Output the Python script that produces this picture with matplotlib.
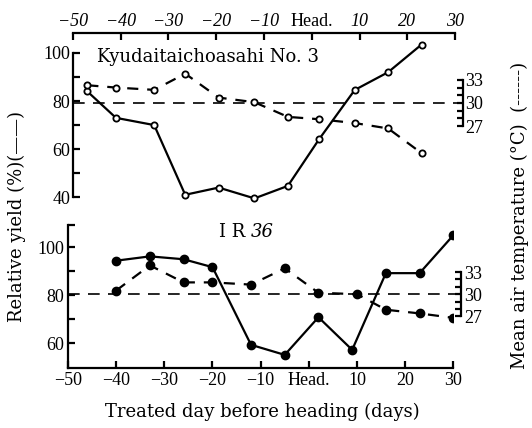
import numpy as np
import matplotlib
matplotlib.use("Agg")
import matplotlib.pyplot as plt
from matplotlib.ticker import FixedLocator

plt.rcParams['font.family'] = ['Liberation Serif', 'DejaVu Serif']

# Datos
top_days = [-47, -41, -33, -26.5, -19.5, -12, -5, 1.5, 9, 16, 23]
top_yield = [84, 73, 70, 41, 44, 39.5, 44.7, 64, 84.6, 92, 103.5]
top_temp = [32.3, 32.0, 31.7, 33.8, 30.7, 30.1, 28.2, 27.9, 27.4, 26.7, 23.5]

bot_days = [-40, -33, -26, -20, -12, -5, 2, 9, 16, 23, 30]
bot_yield = [94.4, 96.2, 95, 91.7, 59.3, 55.1, 70.8, 57.2, 89.2, 89.2, 105]
bot_temp_days = [-40, -33, -26, -20, -12, -5, 2, 10, 16, 23, 30]
bot_temp = [30.5, 33.9, 31.6, 31.6, 31.3, 33.5, 30.2, 30.0, 27.9, 27.4, 26.8]

xticks = [-50, -40, -30, -20, -10, 0, 10, 20, 30]
xticklabels = ['\u221250', '\u221240', '\u221230', '\u221220', '\u221210', 'Head.', '10', '20', '30']

W, H = 532, 428
fig = plt.figure(figsize=(W / 100, H / 100), dpi=100)

fs = 13
txt_font = 'DejaVu Serif'


def temp_axis(ax, tlim):
    ax2 = ax.twinx()
    ax2.set_ylim(*tlim)
    for s in ['top', 'bottom', 'left']:
        ax2.spines[s].set_visible(False)
    ax2.spines['right'].set_position(('axes', 1.02))
    ax2.spines['right'].set_bounds(27, 33)
    ax2.spines['right'].set_linewidth(1.6)
    ax2.yaxis.set_major_locator(FixedLocator([27, 30, 33]))
    ax2.yaxis.set_minor_locator(FixedLocator([28, 29, 31, 32]))
    ax2.tick_params(axis='y', which='both', direction='in', length=4, width=1.6,
                    labelsize=fs, pad=2)
    ax2.axhline(30, xmin=0, xmax=1.02, color='black', lw=1.2,
                dashes=(7, 5), clip_on=False)
    return ax2


# --- Panel superior: Kyudaitaichoasahi No. 3
ax1 = fig.add_axes([73 / W, 1 - 202 / H, 382 / W, (202 - 33) / H])
ax1.set_xlim(-50, 30)
ax1.set_ylim(38, 108.3)
ax1.plot(top_days, top_yield, '-', color='black', lw=1.6, marker='o',
         ms=4.5, mfc='white', mec='black', mew=1.3, zorder=3)
for s in ['right', 'bottom']:
    ax1.spines[s].set_visible(False)
ax1.spines['left'].set_bounds(40, 100)
ax1.spines['left'].set_linewidth(1.6)
ax1.spines['top'].set_linewidth(1.6)
ax1.xaxis.tick_top()
ax1.set_xticks(xticks)
ax1.set_xticklabels(xticklabels)
for lab in ax1.get_xticklabels():
    if lab.get_text() != 'Head.':
        lab.set_fontstyle('italic')
ax1.yaxis.set_major_locator(FixedLocator([40, 60, 80, 100]))
ax1.yaxis.set_minor_locator(FixedLocator([50, 70, 90]))
ax1.tick_params(which='both', direction='in', length=5, width=1.6,
                labelsize=fs, pad=2)
ax1.text(-45, 98.3, 'Kyudaitaichoasahi No. 3', fontsize=fs, va='center',
         family=txt_font)
ax1t = temp_axis(ax1, (17.17, 39.07))
ax1t.plot(top_days, top_temp, color='black', lw=1.6, dashes=(5, 4),
          marker='o', ms=4.5, mfc='white', mec='black', mew=1.3, zorder=3)

# --- Panel inferior: IR 36
ax2 = fig.add_axes([68 / W, 1 - 368.3 / H, 385.3 / W, (368.3 - 223.3) / H])
ax2.set_xlim(-50, 30)
ax2.set_ylim(49.5, 110)
ax2.plot(bot_days, bot_yield, '-', color='black', lw=1.6, marker='o',
         ms=6, mfc='black', mec='black', zorder=3)
for s in ['right', 'top']:
    ax2.spines[s].set_visible(False)
ax2.spines['left'].set_bounds(49.5, 109.3)
ax2.spines['left'].set_linewidth(1.6)
ax2.spines['bottom'].set_linewidth(1.6)
ax2.set_xticks(xticks)
ax2.set_xticklabels(xticklabels)
ax2.yaxis.set_major_locator(FixedLocator([60, 80, 100]))
ax2.yaxis.set_minor_locator(FixedLocator([70, 90, 109.3]))
ax2.tick_params(which='both', direction='in', length=5, width=1.6,
                labelsize=fs, pad=3)
t = ax2.text(-18.7, 106.5, 'I R ', fontsize=fs, va='center', family=txt_font)
ax2.annotate('36', xy=(1, 0.5), xycoords=t, va='center', ha='left',
             fontsize=fs, family=txt_font, fontstyle='italic')
ax2t = temp_axis(ax2, (19.97, 39.6))
ax2t.plot(bot_temp_days, bot_temp, color='black', lw=1.6, dashes=(5, 4),
          marker='o', ms=6, mfc='black', mec='black', zorder=3)

fig.text(17 / W, 1 - 217 / H, 'Relative yield (%)(\u2014\u2014)', rotation=90,
         ha='center', va='center', fontsize=fs, family=txt_font)
fig.text(520 / W, 1 - 215 / H, 'Mean air temperature (\u00b0C)  (------)',
         rotation=90, ha='center', va='center', fontsize=fs, family=txt_font)
fig.text(262 / W, 1 - 412 / H, 'Treated day before heading (days)',
         ha='center', va='center', fontsize=fs, family=txt_font)

fig.savefig('out.png', dpi=100)
